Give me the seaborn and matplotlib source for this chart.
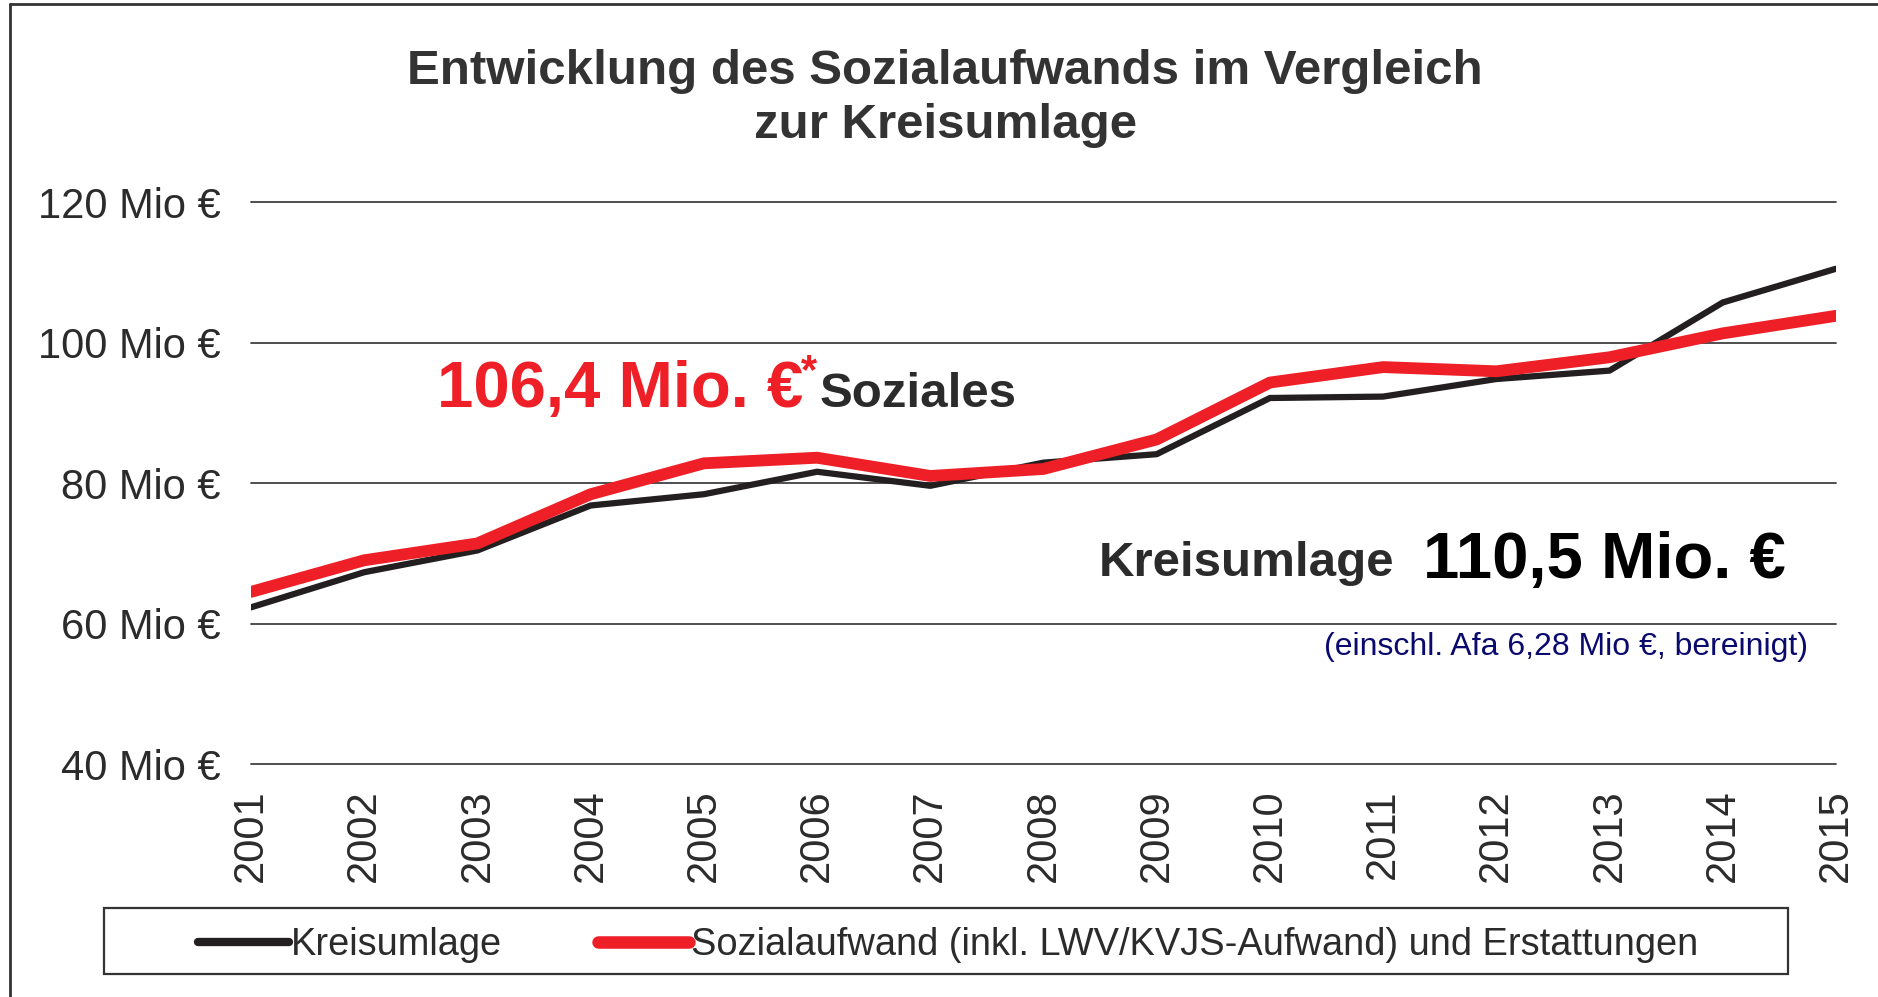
import matplotlib
matplotlib.use("Agg")
import matplotlib.pyplot as plt
import seaborn as sns
import pandas as pd
from matplotlib.lines import Line2D
from matplotlib.patches import Rectangle

# data (Mio €)
years = [2001, 2002, 2003, 2004, 2005, 2006, 2007, 2008, 2009, 2010, 2011, 2012, 2013, 2014, 2015]
kreisumlage = [62.3, 67.3, 70.4, 76.8, 78.4, 81.6, 79.6, 82.9, 84.1, 92.1, 92.3, 94.8, 96.0, 105.7, 110.5]
sozialaufwand = [64.5, 69.0, 71.4, 78.4, 82.8, 83.6, 81.0, 82.0, 86.2, 94.3, 96.5, 95.9, 97.9, 101.3, 103.8]
y_ticks = [40, 60, 80, 100, 120]
y_labels = ["40 Mio €", "60 Mio €", "80 Mio €", "100 Mio €", "120 Mio €"]
series_names = ["Kreisumlage", "Sozialaufwand (inkl. LWV/KVJS-Aufwand) und Erstattungen"]

df = pd.DataFrame({
    "Jahr": years * 2,
    "Wert": kreisumlage + sozialaufwand,
    "Reihe": [series_names[0]] * len(years) + [series_names[1]] * len(years),
})

sns.set_theme(style="white")
plt.rcParams['font.family'] = ['Liberation Sans', 'DejaVu Sans']

BLACK = "#231f20"
RED = "#ee1f26"
DARK = "#2b2b2b"

fig = plt.figure(figsize=(18.78, 9.97), dpi=100)
ax = fig.add_axes([251/1878, 1-764/997, (1836-251)/1878, (764-202)/997])

sns.lineplot(data=df, x="Jahr", y="Wert", hue="Reihe", ax=ax,
             palette={series_names[0]: BLACK, series_names[1]: RED},
             legend=False, estimator=None)
ax.lines[0].set_linewidth(4.5)
ax.lines[1].set_linewidth(8.5)
ax.lines[1].set_zorder(4)
ax.lines[0].set_zorder(3)

ax.set_xlim(2001, 2015)
ax.set_ylim(40, 120)
ax.set_yticks(y_ticks)
ax.set_yticklabels(y_labels, fontsize=30, color=DARK)
ax.set_xticks(years)
ax.set_xticklabels([str(y) for y in years], rotation=90, fontsize=30, color=DARK)
ax.tick_params(axis="y", length=0, pad=22)
ax.tick_params(axis="x", length=0, pad=18)
ax.set_xlabel("")
ax.set_ylabel("")
for s in ax.spines.values():
    s.set_visible(False)
for yv in y_ticks:
    ax.axhline(yv, color="#404040", lw=1.3, zorder=1, clip_on=False)

# title
fig.text(945/1878, 1-71/997, "Entwicklung des Sozialaufwands im Vergleich",
         ha="center", va="center", fontsize=35.5, fontweight="bold", color="#333333")
fig.text(945/1878, 1-126/997, "zur Kreisumlage",
         ha="center", va="center", fontsize=35.5, fontweight="bold", color="#333333")

# annotations
fig.text(437/1878, 1-407/997, "106,4 Mio. €", ha="left", va="baseline",
         fontsize=47, fontweight="bold", color=RED)
fig.text(801/1878, 1-372/997, "*", ha="left", va="center",
         fontsize=30, fontweight="bold", color=RED)
fig.text(820/1878, 1-407/997, "Soziales", ha="left", va="baseline",
         fontsize=35.5, fontweight="bold", color=DARK)
fig.text(1099/1878, 1-576/997, "Kreisumlage", ha="left", va="baseline",
         fontsize=35.5, fontweight="bold", color=DARK)
fig.text(1423/1878, 1-578/997, "110,5 Mio. €", ha="left", va="baseline",
         fontsize=47, fontweight="bold", color="black")
fig.text(1808/1878, 1-647/997, "(einschl. Afa 6,28 Mio €, bereinigt)", ha="right", va="center",
         fontsize=23, color="#0a0a6e")

# legend
handles = [Line2D([0], [0], color=BLACK, lw=6),
           Line2D([0], [0], color=RED, lw=9, solid_capstyle="round")]
leg = fig.legend(handles, series_names, loc="center",
                 bbox_to_anchor=(948/1878, 1-945/997),
                 ncol=2, frameon=False, fontsize=27.4,
                 handlelength=2.4, handletextpad=0.05, columnspacing=2.5)
for t in leg.get_texts():
    t.set_color(DARK)
fig.add_artist(Rectangle((104/1878, 1-974/997), (1788-104)/1878, (974-908)/997,
                         transform=fig.transFigure, fill=False, edgecolor="#333333", lw=1.6))

# outer border (left and top)
fig.add_artist(Line2D([10/1878, 10/1878], [0, 1-4/997], color="#333333", lw=2, transform=fig.transFigure))
fig.add_artist(Line2D([10/1878, 1], [1-4/997, 1-4/997], color="#333333", lw=2, transform=fig.transFigure))

fig.savefig("out.png", dpi=100, facecolor="white")
